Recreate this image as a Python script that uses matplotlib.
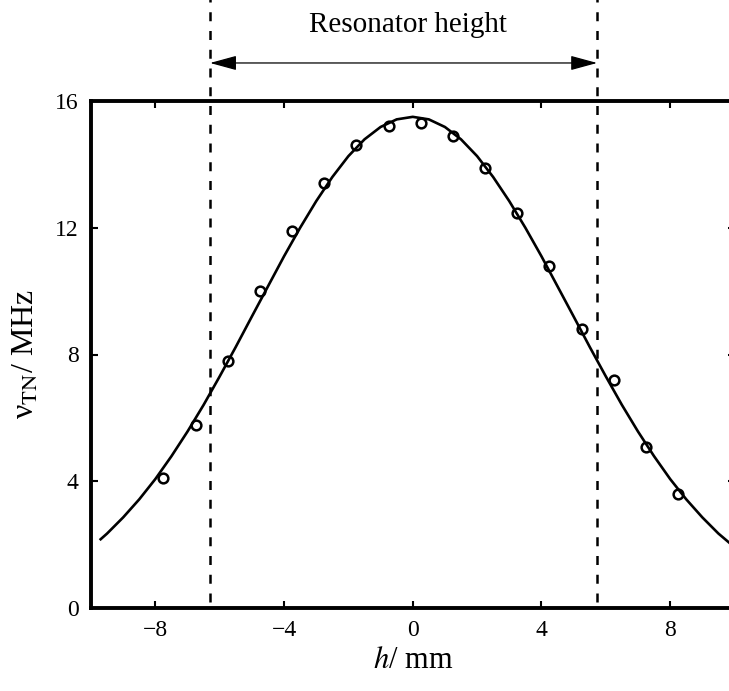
import matplotlib
matplotlib.use("Agg")
import matplotlib.pyplot as plt

plt.rcParams["font.family"] = ["Liberation Serif", "DejaVu Serif"]
plt.rcParams["mathtext.fontset"] = "stix"

# measured tuning frequency vs. position
h_meas = [-7.75, -6.75, -5.75, -4.75, -3.75, -2.75, -1.75, -0.75, 0.25,
          1.25, 2.25, 3.25, 4.25, 5.25, 6.25, 7.25, 8.25]
nu_meas = [4.09, 5.79, 7.79, 10.0, 11.89, 13.40, 14.62, 15.21, 15.29,
           14.90, 13.88, 12.48, 10.79, 8.80, 7.18, 5.09, 3.59]

# fitted curve
h_fit = [-9.7, -9.5, -9.0, -8.5, -8.0, -7.5, -7.0, -6.5, -6.0, -5.5, -5.0,
         -4.5, -4.0, -3.5, -3.0, -2.5, -2.0, -1.5, -1.0, -0.5, 0.0,
         0.5, 1.0, 1.5, 2.0, 2.5, 3.0, 3.5, 4.0, 4.5, 5.0,
         5.5, 6.0, 6.5, 7.0, 7.5, 8.0, 8.5, 9.0, 9.5, 10.0]
nu_fit = [2.17, 2.35, 2.86, 3.43, 4.07, 4.79, 5.57, 6.41, 7.31, 8.24, 9.20,
          10.15, 11.10, 12.00, 12.84, 13.60, 14.26, 14.79, 15.18, 15.42, 15.50,
          15.42, 15.18, 14.79, 14.26, 13.60, 12.84, 12.00, 11.10, 10.15, 9.20,
          8.24, 7.31, 6.41, 5.57, 4.79, 4.07, 3.43, 2.86, 2.35, 1.92]

# resonator edges
res_low, res_high = -6.3, 5.73

fig = plt.figure(figsize=(7.29, 6.91), dpi=100)
ax = fig.add_axes([91 / 729, 83 / 691, 643.5 / 729, 507 / 691])

ax.plot(h_fit, nu_fit, color="black", lw=1.9, zorder=3)
ax.plot(h_meas, nu_meas, "o", mfc="none", mec="black", ms=7, mew=1.8, zorder=4)

for xv in (res_low, res_high):
    ax.plot([xv, xv], [0.2, 19.5], color="black", lw=1.8, dashes=[3.6, 3.9],
            clip_on=False, zorder=2)

ax.annotate("", xy=(res_high, 17.2), xytext=(res_low, 17.2),
            arrowprops=dict(arrowstyle="<|-|>,head_length=1.1,head_width=0.3",
                            mutation_scale=15, color="black", lw=0.9,
                            shrinkA=0, shrinkB=0),
            annotation_clip=False)
ax.text(-0.15, 18.4, "Resonator height", ha="center", va="center", fontsize=21)

ax.set_xlim(-10, 10)
ax.set_ylim(0, 16)
ax.set_xticks([-8, -4, 0, 4, 8])
ax.set_xticklabels(["\u22128", "\u22124", "0", "4", "8"])
ax.set_yticks([0, 4, 8, 12, 16])
ax.tick_params(direction="in", length=5, width=1.5, top=True, right=True,
               labelsize=17, pad=9)
for sp in ax.spines.values():
    sp.set_linewidth(2.8)

ax.set_xlabel(r"$h$/ mm", fontsize=22, labelpad=3)
ax.set_ylabel(r"ν$_{\mathrm{TN}}$/ MHz", fontsize=23, labelpad=10)

fig.savefig("out.png", dpi=100)
